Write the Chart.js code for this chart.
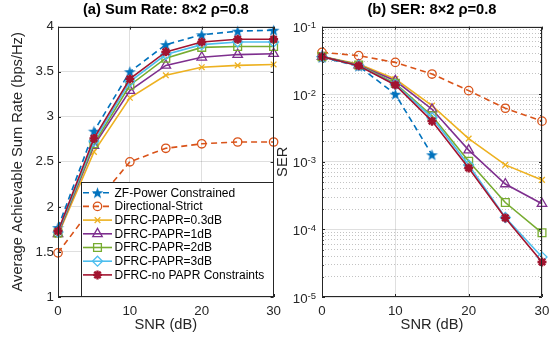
<!DOCTYPE html>
<html lang="en">
<head>
    <meta charset="UTF-8">
    <title>Sum Rate and SER: 8x2 rho=0.8</title>
    <script src="https://cdn.jsdelivr.net/npm/chart.js"></script>
    <style>
        body {
            margin: 0;
            background: #fff;
            width: 558px;
            height: 337px;
            position: relative;
            overflow: hidden;
        }
        .panel {
            position: absolute;
            top: 0;
            height: 337px;
        }
        #leftPanel { left: 0; width: 287px; }
        #rightPanel { left: 264px; width: 294px; }
    </style>
</head>
<body>
    <div class="panel" id="leftPanel"><canvas id="rateChart"></canvas></div>
    <div class="panel" id="rightPanel"><canvas id="serChart"></canvas></div>

    <script>
        // x values (dB)
        const snr = [0, 5, 10, 15, 20, 25, 30];
        const seriesNames = [
            'ZF-Power Constrained',
            'Directional-Strict',
            'DFRC-PAPR=0.3dB',
            'DFRC-PAPR=1dB',
            'DFRC-PAPR=2dB',
            'DFRC-PAPR=3dB',
            'DFRC-no PAPR Constraints'
        ];

        // (a) average achievable sum rate, bps/Hz
        const rateZF  = [1.77, 2.84, 3.50, 3.80, 3.91, 3.95, 3.96];
        const rateDir = [1.49, 2.02, 2.50, 2.65, 2.70, 2.72, 2.72];
        const rate03  = [1.69, 2.61, 3.21, 3.46, 3.55, 3.57, 3.58];
        const rate1   = [1.70, 2.68, 3.29, 3.57, 3.66, 3.69, 3.70];
        const rate2   = [1.71, 2.70, 3.35, 3.65, 3.77, 3.78, 3.78];
        const rate3   = [1.72, 2.73, 3.39, 3.69, 3.80, 3.83, 3.83];
        const rateNo  = [1.73, 2.76, 3.42, 3.72, 3.83, 3.86, 3.86];

        // (b) symbol error rate
        const serZF  = [0.035, 0.026, 0.0100, 0.00127, null, null, null];
        const serDir = [0.0416, 0.0372, 0.0296, 0.0199, 0.0113, 0.0062, 0.0040];
        const ser03  = [0.036, 0.028, 0.0168, 0.0068, 0.00221, 0.00090, 0.00054];
        const ser1   = [0.036, 0.027, 0.0158, 0.0060, 0.00149, 0.00047, 0.00024];
        const ser2   = [0.036, 0.027, 0.0145, 0.0048, 0.00102, 0.00025, 0.000089];
        const ser3   = [0.036, 0.0265, 0.0140, 0.0045, 0.00090, 0.000150, 0.000039];
        const serNo  = [0.036, 0.0264, 0.0137, 0.0040, 0.00081, 0.000148, 0.000033];

        // tick labels
        const snrTicks = [0, 10, 20, 30];
        const rateTicks = [1, 1.5, 2, 2.5, 3, 3.5, 4];
        const serDecades = [-5, -4, -3, -2, -1];

        const FONT = "'Liberation Sans', Arial, Helvetica, sans-serif";
        const INK = '#262626';
        const GRID = 'rgba(38,38,38,0.15)';
        const MINOR = 'rgba(38,38,38,0.28)';

        Chart.defaults.font.family = FONT;
        Chart.defaults.color = INK;
        Chart.defaults.animation = false;

        const colors = ['#0072BD', '#D95319', '#EDB120', '#7E2F8E', '#77AC30', '#4DBEEE', '#A2142F'];

        // filled five point star, used as a point image
        function makePentagram(color, size) {
            const c = document.createElement('canvas');
            c.width = c.height = size;
            const g = c.getContext('2d');
            const R = size / 2 - 0.3, r = R * 0.4, cx = size / 2, cy = size / 2 + 0.6;
            g.beginPath();
            for (let k = 0; k < 10; k++) {
                const ang = -Math.PI / 2 + k * Math.PI / 5;
                const rad = k % 2 ? r : R;
                g.lineTo(cx + rad * Math.cos(ang), cy + rad * Math.sin(ang));
            }
            g.closePath();
            g.fillStyle = color;
            g.fill();
            return c;
        }

        const markers = [
            { style: makePentagram(colors[0], 13), radius: 6, bw: 1, solid: true, dash: [6, 4] },
            { style: 'circle', radius: 4.2, bw: 1.3, dash: [6, 4] },
            { style: 'crossRot', radius: 4, bw: 1.3 },
            { style: 'triangle', radius: 5.5, bw: 1.3 },
            { style: 'rect', radius: 5.5, bw: 1.3 },
            { style: 'rectRot', radius: 5, bw: 1.3 },
            { style: 'star', radius: 4.5, bw: 2.4 }
        ];

        function makeDatasets(values) {
            return values.map((vals, i) => ({
                label: seriesNames[i],
                data: snr.map((x, k) => ({ x: x, y: vals[k] })),
                borderColor: colors[i],
                backgroundColor: colors[i],
                borderWidth: 1.6,
                borderDash: markers[i].dash || [],
                pointStyle: markers[i].style,
                pointRadius: markers[i].radius,
                pointBorderWidth: markers[i].bw,
                pointBorderColor: colors[i],
                pointBackgroundColor: markers[i].solid ? colors[i] : 'rgba(0,0,0,0)',
                tension: 0,
                clip: false,
                order: values.length - i
            }));
        }

        function isDecade(v) {
            const l = Math.log10(v);
            return Math.abs(l - Math.round(l)) < 1e-9;
        }

        // axes box and inward ticks, like MATLAB
        const frame = {
            id: 'frame',
            afterDraw(chart) {
                const { ctx, chartArea: a, scales } = chart;
                const xs = scales.x, ys = scales.y;
                ctx.save();
                ctx.strokeStyle = INK;
                ctx.lineWidth = 1;
                ctx.beginPath();
                xs.ticks.forEach(t => {
                    const px = Math.round(xs.getPixelForValue(t.value)) + 0.5;
                    ctx.moveTo(px, a.bottom); ctx.lineTo(px, a.bottom - 3);
                    ctx.moveTo(px, a.top); ctx.lineTo(px, a.top + 3);
                });
                ys.ticks.forEach(t => {
                    const py = Math.round(ys.getPixelForValue(t.value)) + 0.5;
                    const len = (ys.type === 'logarithmic' && !isDecade(t.value)) ? 1.8 : 3;
                    ctx.moveTo(a.left, py); ctx.lineTo(a.left + len, py);
                    ctx.moveTo(a.right, py); ctx.lineTo(a.right - len, py);
                });
                ctx.rect(Math.round(a.left) + 0.5, Math.round(a.top) + 0.5,
                         Math.round(a.right - a.left) - 1, Math.round(a.bottom - a.top) - 1);
                ctx.stroke();
                ctx.restore();
            }
        };

        // legend box in the lower right corner of plot (a)
        const boxLegend = {
            id: 'boxLegend',
            afterDraw(chart) {
                const { ctx, chartArea: a } = chart;
                const w = 193, h = 115, rowH = 13.7;
                const x0 = Math.round(a.right) - w, y0 = Math.round(a.bottom) - h;
                ctx.save();
                ctx.fillStyle = '#fff';
                ctx.fillRect(x0, y0, w, h);
                ctx.strokeStyle = INK;
                ctx.lineWidth = 1;
                ctx.strokeRect(x0 + 0.5, y0 + 0.5, w - 1, h - 1);
                ctx.font = '12px ' + FONT;
                ctx.textBaseline = 'middle';
                ctx.textAlign = 'left';
                chart.data.datasets.forEach((ds, i) => {
                    const y = y0 + 10.7 + i * rowH;
                    ctx.strokeStyle = ds.borderColor;
                    ctx.lineWidth = ds.borderWidth;
                    ctx.setLineDash(ds.borderDash);
                    ctx.beginPath();
                    ctx.moveTo(x0 + 2, y);
                    ctx.lineTo(x0 + 31, y);
                    ctx.stroke();
                    ctx.setLineDash([]);
                    ctx.fillStyle = ds.pointBackgroundColor;
                    ctx.lineWidth = ds.pointBorderWidth;
                    Chart.helpers.drawPoint(ctx, {
                        pointStyle: ds.pointStyle, radius: ds.pointRadius,
                        rotation: 0, borderWidth: ds.pointBorderWidth
                    }, x0 + 16.5, y);
                    ctx.fillStyle = '#000';
                    ctx.fillText(ds.label, x0 + 33.5, y + 0.5);
                });
                ctx.restore();
            }
        };

        // 10^n labels for the log axis
        const decadeLabels = {
            id: 'decadeLabels',
            afterDraw(chart) {
                const { ctx, chartArea: a, scales } = chart;
                ctx.save();
                ctx.fillStyle = INK;
                ctx.textBaseline = 'alphabetic';
                serDecades.forEach(e => {
                    const py = scales.y.getPixelForValue(Math.pow(10, e));
                    const sup = String(e);
                    ctx.font = '9.5px ' + FONT;
                    const ws = ctx.measureText(sup).width;
                    const xr = a.left - 6;
                    ctx.textAlign = 'left';
                    ctx.fillText(sup, xr - ws, py + 1.5);
                    ctx.font = '13.3px ' + FONT;
                    ctx.textAlign = 'right';
                    ctx.fillText('10', xr - ws, py + 5.5);
                });
                ctx.restore();
            }
        };

        function xAxis() {
            return {
                type: 'linear',
                min: 0,
                max: 30,
                afterBuildTicks: s => { s.ticks = snrTicks.map(v => ({ value: v })); },
                afterFit: s => { s.height = 40; },
                grid: { color: GRID, drawTicks: false },
                border: { display: false },
                ticks: { font: { size: 13.3 }, padding: 6, color: INK, maxRotation: 0 },
                title: { display: true, text: 'SNR (dB)', font: { size: 14.7 }, color: INK, padding: 3 }
            };
        }

        function chartTitle(text) {
            return {
                display: true,
                text: text,
                fullSize: false,
                color: '#000',
                font: { size: 14.7, weight: 'bold' },
                padding: { top: 1.5, bottom: 7.5 }
            };
        }

        new Chart(document.getElementById('rateChart'), {
            type: 'line',
            data: { datasets: makeDatasets([rateZF, rateDir, rate03, rate1, rate2, rate3, rateNo]) },
            options: {
                responsive: true,
                maintainAspectRatio: false,
                layout: { padding: { left: 0, right: 10, top: 0, bottom: 0 } },
                scales: {
                    x: xAxis(),
                    y: {
                        type: 'linear',
                        min: 1,
                        max: 4,
                        afterBuildTicks: s => { s.ticks = rateTicks.map(v => ({ value: v })); },
                        afterFit: s => { s.width = 58; },
                        grid: { color: GRID, drawTicks: false },
                        border: { display: false },
                        ticks: { font: { size: 13.3 }, padding: 4, color: INK, callback: v => String(v) },
                        title: { display: true, text: 'Average Achievable Sum Rate (bps/Hz)', font: { size: 14.7 }, color: INK, padding: 9 }
                    }
                },
                plugins: {
                    legend: { display: false },
                    tooltip: { enabled: false },
                    title: chartTitle('(a) Sum Rate: 8×2 ρ=0.8')
                }
            },
            plugins: [frame, boxLegend]
        });

        new Chart(document.getElementById('serChart'), {
            type: 'line',
            data: { datasets: makeDatasets([serZF, serDir, ser03, ser1, ser2, ser3, serNo]) },
            options: {
                responsive: true,
                maintainAspectRatio: false,
                layout: { padding: { left: 0, right: 16, top: 0, bottom: 0 } },
                scales: {
                    x: xAxis(),
                    y: {
                        type: 'logarithmic',
                        min: 1e-5,
                        max: 1e-1,
                        afterBuildTicks: s => {
                            const t = [];
                            serDecades.forEach(e => {
                                for (let m = 1; m <= 9; m++) {
                                    const v = m * Math.pow(10, e);
                                    if (v <= 0.1 + 1e-12) t.push({ value: v });
                                }
                            });
                            s.ticks = t;
                        },
                        afterFit: s => { s.width = 58; },
                        grid: {
                            drawTicks: false,
                            color: c => (c.tick && isDecade(c.tick.value)) ? GRID : MINOR
                        },
                        border: {
                            display: false,
                            dash: c => (c.tick && isDecade(c.tick.value)) ? [] : [1, 2]
                        },
                        ticks: { display: false, autoSkip: false },
                        title: { display: true, text: 'SER', font: { size: 14.7 }, color: INK, padding: 10 }
                    }
                },
                plugins: {
                    legend: { display: false },
                    tooltip: { enabled: false },
                    title: chartTitle('(b) SER: 8×2 ρ=0.8')
                }
            },
            plugins: [frame, decadeLabels]
        });
    </script>
</body>
</html>
